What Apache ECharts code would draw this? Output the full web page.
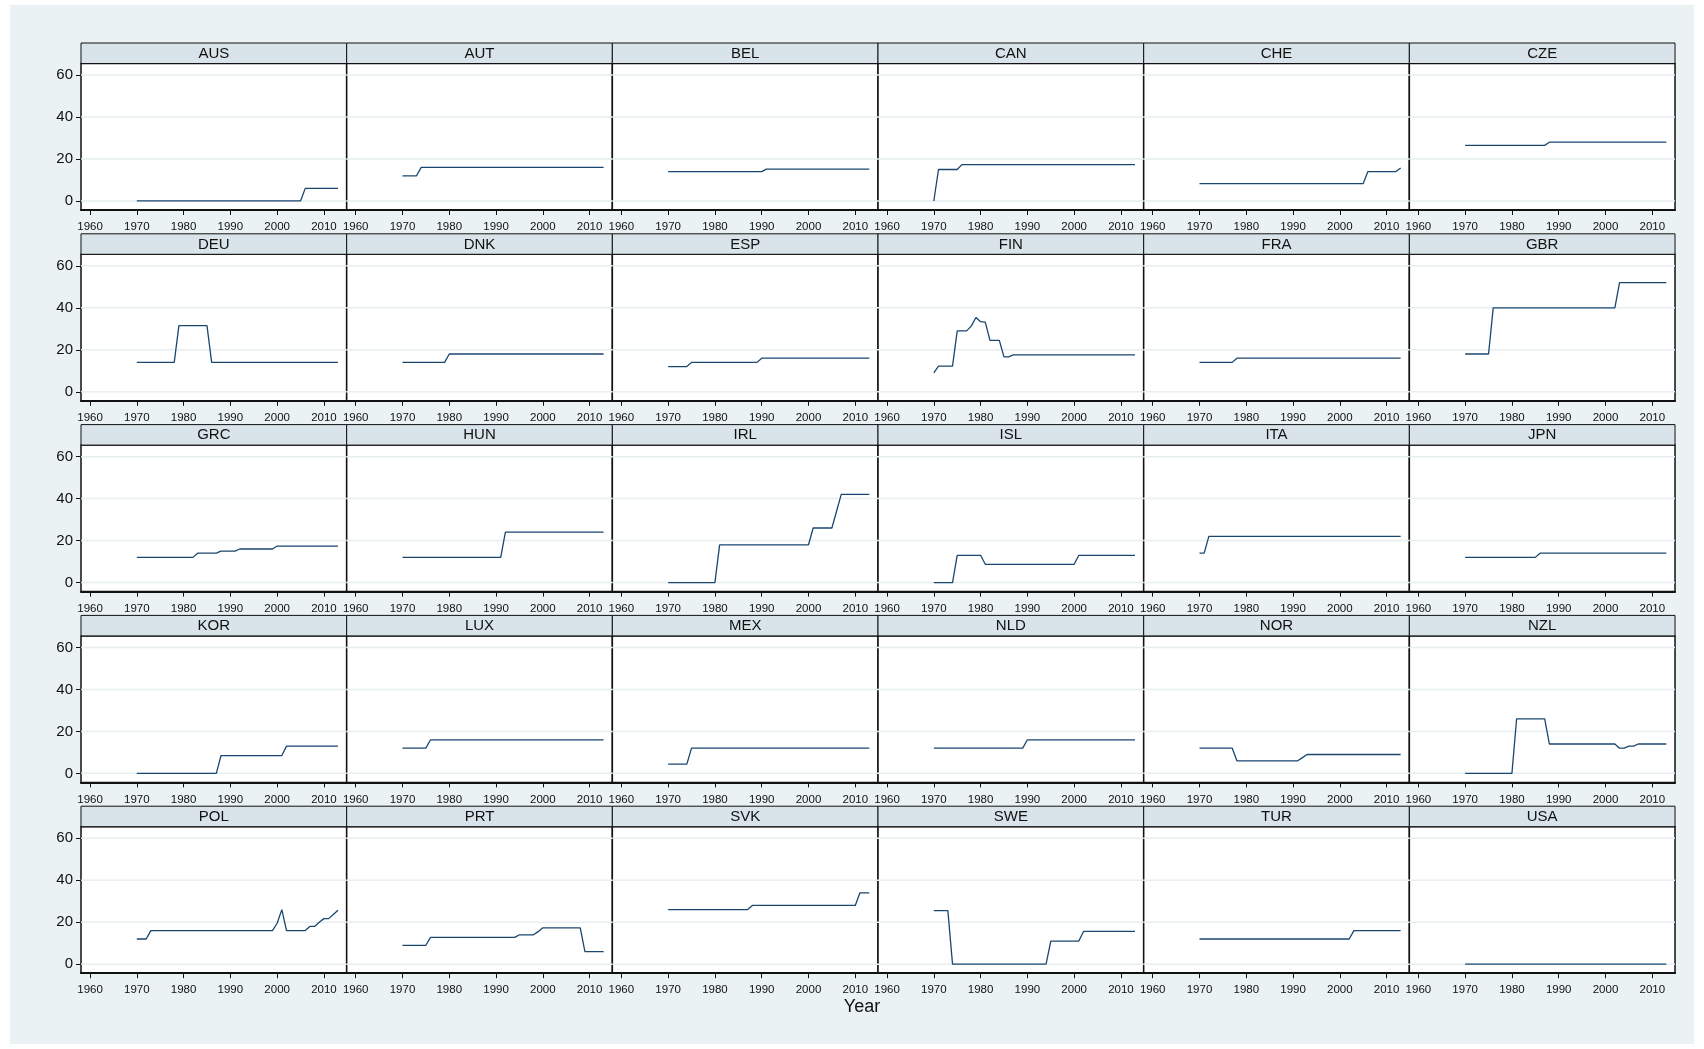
<!DOCTYPE html>
<html>
<head>
<meta charset="utf-8">
<script src="https://cdn.jsdelivr.net/npm/echarts@6/dist/echarts.min.js"></script>
<style>
  html, body { margin: 0; padding: 0; background: #ffffff; }
  #chart { width: 1704px; height: 1049px; }
</style>
</head>
<body>
<div id="chart"></div>
<script>
// Panels, in reading order (5 rows x 6 columns)
const countries = [
  'AUS', 'AUT', 'BEL', 'CAN', 'CHE', 'CZE',
  'DEU', 'DNK', 'ESP', 'FIN', 'FRA', 'GBR',
  'GRC', 'HUN', 'IRL', 'ISL', 'ITA', 'JPN',
  'KOR', 'LUX', 'MEX', 'NLD', 'NOR', 'NZL',
  'POL', 'PRT', 'SVK', 'SWE', 'TUR', 'USA'
];

const years = [
  1970, 1971, 1972, 1973, 1974, 1975, 1976, 1977, 1978, 1979,
  1980, 1981, 1982, 1983, 1984, 1985, 1986, 1987, 1988, 1989,
  1990, 1991, 1992, 1993, 1994, 1995, 1996, 1997, 1998, 1999,
  2000, 2001, 2002, 2003, 2004, 2005, 2006, 2007, 2008, 2009,
  2010, 2011, 2012, 2013
];

const xTickValues = [1960, 1970, 1980, 1990, 2000, 2010];
const yTickValues = [0, 20, 40, 60];

// One value per year, 1970-2013
const AUS = [0,0,0,0,0,0,0,0,0,0, 0,0,0,0,0,0,0,0,0,0, 0,0,0,0,0,0,0,0,0,0, 0,0,0,0,0,0,6,6,6,6, 6,6,6,6];
const AUT = [12,12,12,12,16,16,16,16,16,16, 16,16,16,16,16,16,16,16,16,16, 16,16,16,16,16,16,16,16,16,16, 16,16,16,16,16,16,16,16,16,16, 16,16,16,16];
const BEL = [14,14,14,14,14,14,14,14,14,14, 14,14,14,14,14,14,14,14,14,14, 14,15.2,15.2,15.2,15.2,15.2,15.2,15.2,15.2,15.2, 15.2,15.2,15.2,15.2,15.2,15.2,15.2,15.2,15.2,15.2, 15.2,15.2,15.2,15.2];
const CAN = [0,15,15,15,15,15,17.3,17.3,17.3,17.3, 17.3,17.3,17.3,17.3,17.3,17.3,17.3,17.3,17.3,17.3, 17.3,17.3,17.3,17.3,17.3,17.3,17.3,17.3,17.3,17.3, 17.3,17.3,17.3,17.3,17.3,17.3,17.3,17.3,17.3,17.3, 17.3,17.3,17.3,17.3];
const CHE = [8.3,8.3,8.3,8.3,8.3,8.3,8.3,8.3,8.3,8.3, 8.3,8.3,8.3,8.3,8.3,8.3,8.3,8.3,8.3,8.3, 8.3,8.3,8.3,8.3,8.3,8.3,8.3,8.3,8.3,8.3, 8.3,8.3,8.3,8.3,8.3,8.3,14,14,14,14, 14,14,14,15.7];
const CZE = [26.5,26.5,26.5,26.5,26.5,26.5,26.5,26.5,26.5,26.5, 26.5,26.5,26.5,26.5,26.5,26.5,26.5,26.5,28,28, 28,28,28,28,28,28,28,28,28,28, 28,28,28,28,28,28,28,28,28,28, 28,28,28,28];
const DEU = [14,14,14,14,14,14,14,14,14,31.5, 31.5,31.5,31.5,31.5,31.5,31.5,14,14,14,14, 14,14,14,14,14,14,14,14,14,14, 14,14,14,14,14,14,14,14,14,14, 14,14,14,14];
const DNK = [14,14,14,14,14,14,14,14,14,14, 18,18,18,18,18,18,18,18,18,18, 18,18,18,18,18,18,18,18,18,18, 18,18,18,18,18,18,18,18,18,18, 18,18,18,18];
const ESP = [12,12,12,12,12,14,14,14,14,14, 14,14,14,14,14,14,14,14,14,14, 16,16,16,16,16,16,16,16,16,16, 16,16,16,16,16,16,16,16,16,16, 16,16,16,16];
const FIN = [9,12.2,12.2,12.2,12.2,29,29,29,31.3,35.4, 33.4,33.2,24.5,24.5,24.5,16.6,16.6,17.6,17.6,17.6, 17.6,17.6,17.6,17.6,17.6,17.6,17.6,17.6,17.6,17.6, 17.6,17.6,17.6,17.6,17.6,17.6,17.6,17.6,17.6,17.6, 17.6,17.6,17.6,17.6];
const FRA = [14,14,14,14,14,14,14,14,16,16, 16,16,16,16,16,16,16,16,16,16, 16,16,16,16,16,16,16,16,16,16, 16,16,16,16,16,16,16,16,16,16, 16,16,16,16];
const GBR = [18,18,18,18,18,18,40,40,40,40, 40,40,40,40,40,40,40,40,40,40, 40,40,40,40,40,40,40,40,40,40, 40,40,40,52,52,52,52,52,52,52, 52,52,52,52];
const GRC = [12,12,12,12,12,12,12,12,12,12, 12,12,12,14,14,14,14,14,15,15, 15,15,16,16,16,16,16,16,16,16, 17.4,17.4,17.4,17.4,17.4,17.4,17.4,17.4,17.4,17.4, 17.4,17.4,17.4,17.4];
const HUN = [12,12,12,12,12,12,12,12,12,12, 12,12,12,12,12,12,12,12,12,12, 12,12,24,24,24,24,24,24,24,24, 24,24,24,24,24,24,24,24,24,24, 24,24,24,24];
const IRL = [0,0,0,0,0,0,0,0,0,0, 0,18,18,18,18,18,18,18,18,18, 18,18,18,18,18,18,18,18,18,18, 18,26,26,26,26,26,34,42,42,42, 42,42,42,42];
const ISL = [0,0,0,0,0,13,13,13,13,13, 13,8.7,8.7,8.7,8.7,8.7,8.7,8.7,8.7,8.7, 8.7,8.7,8.7,8.7,8.7,8.7,8.7,8.7,8.7,8.7, 8.7,13,13,13,13,13,13,13,13,13, 13,13,13,13];
const ITA = [14,14,22,22,22,22,22,22,22,22, 22,22,22,22,22,22,22,22,22,22, 22,22,22,22,22,22,22,22,22,22, 22,22,22,22,22,22,22,22,22,22, 22,22,22,22];
const JPN = [12,12,12,12,12,12,12,12,12,12, 12,12,12,12,12,12,14,14,14,14, 14,14,14,14,14,14,14,14,14,14, 14,14,14,14,14,14,14,14,14,14, 14,14,14,14];
const KOR = [0,0,0,0,0,0,0,0,0,0, 0,0,0,0,0,0,0,0,8.5,8.5, 8.5,8.5,8.5,8.5,8.5,8.5,8.5,8.5,8.5,8.5, 8.5,8.5,13,13,13,13,13,13,13,13, 13,13,13,13];
const LUX = [12,12,12,12,12,12,16,16,16,16, 16,16,16,16,16,16,16,16,16,16, 16,16,16,16,16,16,16,16,16,16, 16,16,16,16,16,16,16,16,16,16, 16,16,16,16];
const MEX = [4.4,4.4,4.4,4.4,4.4,12,12,12,12,12, 12,12,12,12,12,12,12,12,12,12, 12,12,12,12,12,12,12,12,12,12, 12,12,12,12,12,12,12,12,12,12, 12,12,12,12];
const NLD = [12,12,12,12,12,12,12,12,12,12, 12,12,12,12,12,12,12,12,12,12, 16,16,16,16,16,16,16,16,16,16, 16,16,16,16,16,16,16,16,16,16, 16,16,16,16];
const NOR = [12,12,12,12,12,12,12,12,6,6, 6,6,6,6,6,6,6,6,6,6, 6,6,7.5,9,9,9,9,9,9,9, 9,9,9,9,9,9,9,9,9,9, 9,9,9,9];
const NZL = [0,0,0,0,0,0,0,0,0,0, 0,26,26,26,26,26,26,26,14,14, 14,14,14,14,14,14,14,14,14,14, 14,14,14,12,12,13,13,14,14,14, 14,14,14,14];
const POL = [12,12,12,16,16,16,16,16,16,16, 16,16,16,16,16,16,16,16,16,16, 16,16,16,16,16,16,16,16,16,16, 19.5,26,16,16,16,16,16,18,18,20, 21.7,21.7,23.7,25.7];
const PRT = [9,9,9,9,9,9,12.75,12.75,12.75,12.75, 12.75,12.75,12.75,12.75,12.75,12.75,12.75,12.75,12.75,12.75, 12.75,12.75,12.75,12.75,12.75,14,14,14,14,15.5, 17.3,17.3,17.3,17.3,17.3,17.3,17.3,17.3,17.3,6, 6,6,6,6];
const SVK = [26,26,26,26,26,26,26,26,26,26, 26,26,26,26,26,26,26,26,28,28, 28,28,28,28,28,28,28,28,28,28, 28,28,28,28,28,28,28,28,28,28, 28,34,34,34];
const SWE = [25.5,25.5,25.5,25.5,0,0,0,0,0,0, 0,0,0,0,0,0,0,0,0,0, 0,0,0,0,0,11,11,11,11,11, 11,11,15.6,15.6,15.6,15.6,15.6,15.6,15.6,15.6, 15.6,15.6,15.6,15.6];
const TUR = [12,12,12,12,12,12,12,12,12,12, 12,12,12,12,12,12,12,12,12,12, 12,12,12,12,12,12,12,12,12,12, 12,12,12,16,16,16,16,16,16,16, 16,16,16,16];
const USA = [0,0,0,0,0,0,0,0,0,0, 0,0,0,0,0,0,0,0,0,0, 0,0,0,0,0,0,0,0,0,0, 0,0,0,0,0,0,0,0,0,0, 0,0,0,0];

const valuesByCountry = {
  AUS, AUT, BEL, CAN, CHE, CZE, DEU, DNK, ESP, FIN, FRA, GBR,
  GRC, HUN, IRL, ISL, ITA, JPN, KOR, LUX, MEX, NLD, NOR, NZL,
  POL, PRT, SVK, SWE, TUR, USA
};

// Panel geometry
const COLS = 6;
const PANEL_LEFT = 81;
const PANEL_W = 265.67;
const ROW_PITCH = 190.8;
const STRIP_TOP = 43;
const STRIP_H = 20.5;
const PLOT_TOP = 63.5;
const PLOT_H = 146.5;
const X_MIN = 1958.07, X_MAX = 2014.86;
const Y_MIN = -4.3, Y_MAX = 65.5;

const FONT = '"Liberation Sans", Arial, Helvetica, sans-serif';
const LINE_COLOR = '#1a476f';
const GRID_COLOR = '#e6eef0';

const grids = [], xAxes = [], yAxes = [], series = [], graphics = [];

// outer graph region
graphics.push({
  type: 'rect', z: -10, silent: true,
  shape: { x: 10, y: 5, width: 1684, height: 1039 },
  style: { fill: '#eaf2f3' }
});

// horizontal reference lines across the full x range, broken between levels
const gridLineData = [];
yTickValues.forEach((v, k) => {
  if (k > 0) gridLineData.push('-');
  gridLineData.push([X_MIN, v], [X_MAX, v]);
});

countries.forEach((code, i) => {
  const r = Math.floor(i / COLS), c = i % COLS;
  const left = PANEL_LEFT + c * PANEL_W;
  const top = PLOT_TOP + r * ROW_PITCH;

  grids.push({
    left: left, top: top, width: PANEL_W, height: PLOT_H,
    show: true, backgroundColor: '#ffffff',
    borderColor: '#111111', borderWidth: 1.5
  });

  xAxes.push({
    type: 'value', gridIndex: i, min: X_MIN, max: X_MAX,
    axisLine: { show: true, onZero: false, lineStyle: { color: '#111111', width: 2 } },
    axisTick: { show: true, length: 5, customValues: xTickValues, lineStyle: { color: '#111111', width: 1 } },
    axisLabel: {
      customValues: xTickValues, fontSize: 11.5, color: '#111111', margin: 11, fontFamily: FONT,
      formatter: v => String(Math.round(v))
    },
    splitLine: { show: false }
  });

  yAxes.push({
    type: 'value', gridIndex: i, min: Y_MIN, max: Y_MAX,
    axisLine: { show: false },
    axisTick: { show: c === 0, length: 5, customValues: yTickValues, lineStyle: { color: '#111111', width: 1 } },
    axisLabel: {
      show: c === 0, customValues: yTickValues, fontSize: 15, color: '#111111', margin: 8, fontFamily: FONT,
      formatter: v => String(Math.round(v))
    },
    splitLine: { show: false }
  });

  series.push({
    type: 'line', xAxisIndex: i, yAxisIndex: i, z: 1, silent: true,
    data: gridLineData, connectNulls: false,
    showSymbol: false, symbol: 'none',
    lineStyle: { color: GRID_COLOR, width: 1.5 }
  });

  series.push({
    name: code, type: 'line', xAxisIndex: i, yAxisIndex: i, z: 3,
    data: years.map((y, k) => [y, valuesByCountry[code][k]]),
    showSymbol: false, symbol: 'none', silent: true,
    lineStyle: { color: LINE_COLOR, width: 1.3 }
  });

  // title strip
  graphics.push({
    type: 'rect', silent: true, z: 5,
    shape: { x: left, y: STRIP_TOP + r * ROW_PITCH, width: PANEL_W, height: STRIP_H },
    style: { fill: '#d8e4e9', stroke: '#111111', lineWidth: 1 }
  });
  graphics.push({
    type: 'text', silent: true, z: 6,
    x: left + PANEL_W / 2, y: STRIP_TOP + r * ROW_PITCH + STRIP_H / 2 + 0.5,
    style: { text: code, fill: '#111111', font: '15px ' + FONT, align: 'center', verticalAlign: 'middle' }
  });
});

graphics.push({
  type: 'text', silent: true, z: 6,
  x: 862, y: 1007,
  style: { text: 'Year', fill: '#111111', font: '18px ' + FONT, align: 'center', verticalAlign: 'middle' }
});

const chart = echarts.init(document.getElementById('chart'), null, { renderer: 'canvas' });
chart.setOption({
  backgroundColor: '#ffffff',
  animation: false,
  grid: grids,
  xAxis: xAxes,
  yAxis: yAxes,
  series: series,
  graphic: { elements: graphics }
});
</script>
</body>
</html>
